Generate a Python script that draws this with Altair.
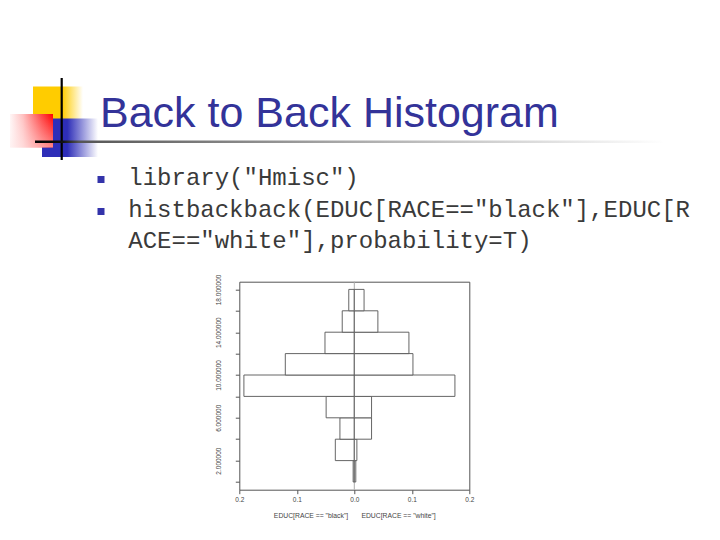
import altair as alt
import pandas as pd

# ---- data ----
bin_lo = [0, 2, 4, 6, 8, 10, 12, 14, 16]
bin_hi = [2, 4, 6, 8, 10, 12, 14, 16, 18]
black_prob = [0.002, 0.033, 0.025, 0.049, 0.192, 0.120, 0.051, 0.021, 0.0096]
white_prob = [0.0026, 0.0045, 0.030, 0.030, 0.175, 0.102, 0.095, 0.041, 0.017]
x_ticks = [-0.2, -0.1, 0.0, 0.1, 0.2]
y_ticks = [0, 2, 4, 6, 8, 10, 12, 14, 16, 18]

title_text = "Back to Back Histogram"
code_lines = ['library("Hmisc")',
              'histbackback(EDUC[RACE=="black"],EDUC[R',
              'ACE=="white"],probability=T)']
x_title = 'EDUC[RACE == "black"]' + "\u00a0" * 7 + 'EDUC[RACE == "white"]'

# ---- layout (page pixels) ----
PL, PT = 239.3, 281.7          # plot-box origin on the page
W, H = 230, 208


def px(X):
    return X - PL


def py(Y):
    return Y - PT


rows = []
for lo, hi, b, w in zip(bin_lo, bin_hi, black_prob, white_prob):
    rows.append({"lo": lo, "hi": hi, "x1": -b, "x2": 0.0, "side": "black"})
    rows.append({"lo": lo, "hi": hi, "x1": 0.0, "x2": w, "side": "white"})
df = pd.DataFrame(rows)

xscale = alt.Scale(domain=[-0.2, 0.2], nice=False, zero=False)
yscale = alt.Scale(domain=[-0.72, 18.72], nice=False, zero=False)

bars = alt.Chart(df).mark_rect(fill="white", stroke="#555", strokeWidth=0.9).encode(
    x=alt.X("x1:Q", scale=xscale,
            axis=alt.Axis(values=x_ticks, labelExpr="format(abs(datum.value), '.1f')",
                          title=x_title, titleFontSize=6.8, titleFontWeight="normal",
                          titleFont="Liberation Sans", titleColor="#444", titlePadding=9,
                          labelFontSize=6.5, labelFont="Liberation Sans", labelColor="#444",
                          labelFlush=False, labelOverlap=False, labelPadding=3,
                          tickSize=4, tickColor="#555", domain=False, grid=False)),
    x2="x2:Q",
    y=alt.Y("lo:Q", scale=yscale,
            axis=alt.Axis(values=y_ticks,
                          labelExpr="datum.value % 4 == 2 ? format(datum.value, '.6f') : ''",
                          labelAngle=270, labelAlign="center", labelBaseline="bottom",
                          labelFontSize=6.5, labelFont="Liberation Sans", labelColor="#444",
                          labelFlush=False, labelOverlap=False, labelPadding=14,
                          tickSize=4, tickColor="#555", domain=False, grid=False, title=None)),
    y2="hi:Q",
)

zero = alt.Chart(pd.DataFrame({"z": [0.0]})).mark_rule(color="#aaa", strokeWidth=1).encode(
    x=alt.X("z:Q", scale=xscale)
)

one = pd.DataFrame({"k": [0]})


def grad(stops, x1=0, y1=0, x2=1, y2=0):
    return alt.LinearGradient(
        gradient="linear",
        stops=[alt.GradientStop(color=c, offset=o) for o, c in stops],
        x1=x1, y1=y1, x2=x2, y2=y2)


def deco_rect(X1, X2, Y1, Y2, fill):
    return alt.Chart(one).mark_rect(fill=fill, stroke=None).encode(
        x=alt.value(px(X1)), x2=alt.value(px(X2)),
        y=alt.value(py(Y1)), y2=alt.value(py(Y2)))


yellow = deco_rect(33, 83, 86.5, 119, grad([(0, "#ffcc00"), (0.58, "#ffcc00"), (1, "#ffffff")]))
blue = deco_rect(42, 98, 118.5, 157, grad([(0, "#2e2eb8"), (0.45, "#2e2eb8"), (1, "#ffffff")]))
# red square: bright at the right, fading to pale pink at the left ...
red = deco_rect(10, 53, 114, 147.5, grad([(0, "#ff0000"), (0.25, "#ff4040"), (0.7, "#ffc0c0"), (1, "#fff6f6")],
                                       x1=1, y1=0, x2=0, y2=0))
# ... and paler toward the bottom
red_fade = deco_rect(10, 53, 114, 147.5, grad([(0, "rgba(255,255,255,0)"), (1, "rgba(255,240,240,0.55)")],
                                            x1=0, y1=0, x2=0, y2=1))
vline = deco_rect(60.6, 62.8, 78, 160, "#000000")
hline = deco_rect(35, 665, 140.5, 143, grad([(0, "#000000"), (0.045, "#111111"), (0.07, "#555555"),
                                             (0.5, "#aaaaaa"), (1, "#ffffff")]))

title = alt.Chart(pd.DataFrame({"t": [title_text]})).mark_text(
    align="left", baseline="alphabetic", font="Liberation Sans", fontSize=43, color="#333399"
).encode(x=alt.value(px(100)), y=alt.value(py(127)), text="t:N")

bullets = []
for Y in [176, 208]:
    bullets.append(deco_rect(97.5, 104.5, Y, Y + 7, "#3333aa"))

code_marks = []
for line, base in zip(code_lines, [185, 216.5, 247.5]):
    code_marks.append(alt.Chart(pd.DataFrame({"t": [line]})).mark_text(
        align="left", baseline="alphabetic", font="Liberation Mono", fontSize=24, color="#3a3a3a"
    ).encode(x=alt.value(px(128.3)), y=alt.value(py(base)), text="t:N"))

chart = alt.layer(
    yellow, blue, red, red_fade, vline, hline, title, *bullets, *code_marks, zero, bars
).properties(
    width=W, height=H,
    autosize=alt.AutoSizeParams(type="none"),
    padding={"left": PL - 8, "top": PT - 8, "right": 704 - (PL - 8) - W, "bottom": 524 - (PT - 8) - H},
    background="white",
).configure_view(stroke="#555", strokeWidth=1)

chart.save("out.html", embed_options={"renderer": "svg", "actions": False})
